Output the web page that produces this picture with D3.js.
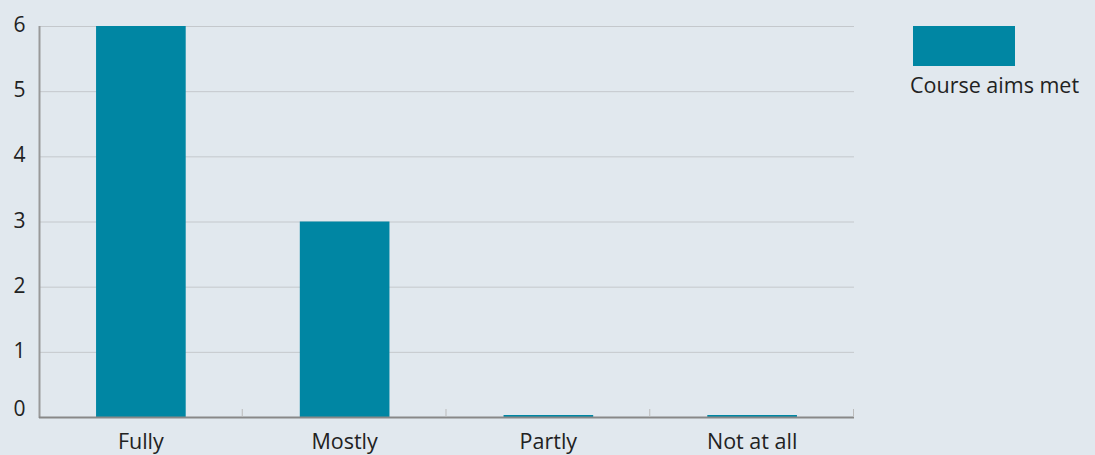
<!DOCTYPE html>
<html><head><meta charset="utf-8">
<script src="https://cdn.jsdelivr.net/npm/d3@7"></script>
<style>
html,body{margin:0;padding:0;background:#e1e8ee;}
svg{display:block;}
text{font-family:"Open Sans",sans-serif;fill:#222;}
</style></head><body>
<svg id="c" width="1095" height="455"></svg>
<script>
const categories = ["Fully", "Mostly", "Partly", "Not at all"];
const values = [6, 3, 0, 0];
const seriesName = "Course aims met";
const yTicks = [0, 1, 2, 3, 4, 5, 6];

const svg = d3.select("#c");
const W = 1095, H = 455;
svg.append("rect").attr("width", W).attr("height", H).attr("fill", "#e1e8ee");
const m = {left: 39, right: 854, top: 26, bottom: 417};
const x = d3.scaleBand().domain(categories).range([m.left, m.right]).paddingInner(0.56).paddingOuter(0.28);
const xb = d3.scaleBand().domain(categories).range([m.left, m.right]);
const y = d3.scaleLinear().domain([0, 6]).range([m.bottom, m.top]);

// gridlines
svg.append("g").selectAll("line").data(yTicks.filter(d => d > 0)).join("line")
  .attr("x1", m.left).attr("x2", m.right)
  .attr("y1", d => y(d) + 0.5).attr("y2", d => y(d) + 0.5)
  .attr("stroke", "#c4c8cc").attr("stroke-width", 1);

// bars
svg.append("g").selectAll("rect").data(categories).join("rect")
  .attr("x", d => x(d)).attr("width", x.bandwidth())
  .attr("y", (d, i) => values[i] > 0 ? y(values[i]) : y(0) - 2)
  .attr("height", (d, i) => values[i] > 0 ? y(0) - y(values[i]) : 2)
  .attr("fill", "#0086a3");

// y axis labels
svg.append("g").selectAll("text").data(yTicks).join("text")
  .attr("x", 19.5).attr("y", d => Math.min(y(d) - 1.5, m.bottom - 9)).attr("dy", "0.36em")
  .attr("text-anchor", "middle").attr("font-size", 21).text(d => d);

// axis lines
svg.append("line").attr("x1", m.left + 0.5).attr("x2", m.left + 0.5).attr("y1", m.top).attr("y2", m.bottom + 1)
  .attr("stroke", "#999", ).attr("stroke-width", 2);
svg.append("line").attr("x1", m.left).attr("x2", m.right).attr("y1", m.bottom + 0.5).attr("y2", m.bottom + 0.5)
  .attr("stroke", "#888").attr("stroke-width", 2);
// category boundary ticks
svg.append("g").selectAll("line").data(categories.slice(1).concat(["end"])).join("line")
  .attr("x1", (d, i) => (i < 3 ? xb(d) : m.right) - 0.5).attr("x2", (d, i) => (i < 3 ? xb(d) : m.right) - 0.5)
  .attr("y1", m.bottom - 8).attr("y2", m.bottom)
  .attr("stroke", "#bbb").attr("stroke-width", 1);

// x labels
svg.append("g").selectAll("text").data(categories).join("text")
  .attr("x", d => xb(d) + xb.bandwidth() / 2).attr("y", 449)
  .attr("text-anchor", "middle").attr("font-size", 21.5).text(d => d);

// legend
svg.append("rect").attr("x", 913).attr("y", 26).attr("width", 102).attr("height", 40).attr("fill", "#0086a3");
svg.append("text").attr("x", 910).attr("y", 93).attr("font-size", 21.5).text(seriesName);
</script></body></html>
